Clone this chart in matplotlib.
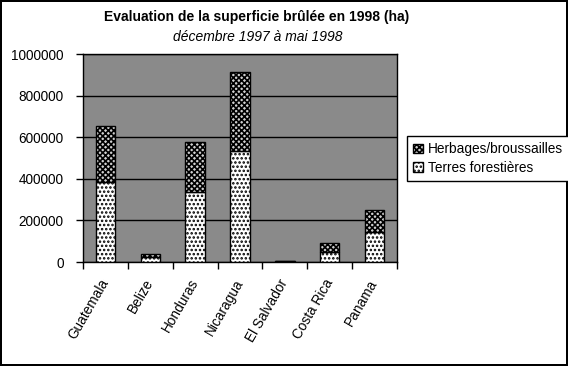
import matplotlib
matplotlib.use("Agg")
import matplotlib.pyplot as plt
import numpy as np

countries = ["Guatemala", "Belize", "Honduras", "Nicaragua", "El Salvador", "Costa Rica", "Panama"]
forest = [383000, 22000, 335000, 534000, 3000, 50000, 146000]
herbage = [272000, 16000, 240000, 378000, 3000, 40000, 105000]
yticks = [0, 200000, 400000, 600000, 800000, 1000000]
series_names = ["Herbages/broussailles", "Terres forestières"]

plt.rcParams['font.family'] = ['Liberation Sans', 'DejaVu Sans']
plt.rcParams['hatch.linewidth'] = 1.2

W, H = 568, 366
fig = plt.figure(figsize=(W / 100, H / 100), dpi=100, linewidth=1.5, edgecolor='black')
ax = fig.add_axes([83 / W, 1 - 262 / H, 314 / W, 208 / H])
ax.set_facecolor('#8a8a8a')

x = np.arange(len(countries))
bw = 0.43
b1 = ax.bar(x, forest, bw, color='white', edgecolor='black', hatch='....', linewidth=1, zorder=3)
b2 = ax.bar(x, herbage, bw, bottom=forest, color='#d0d0d0', edgecolor='black', hatch='xxxxxx', linewidth=1, zorder=3)

ax.set_xlim(-0.5, len(countries) - 0.5)
ax.set_ylim(0, 1000000)
ax.set_yticks(yticks)
ax.set_yticklabels([str(v) for v in yticks], fontsize=9.8)
ax.yaxis.grid(True, color='black', linewidth=1, zorder=1)
ax.set_axisbelow(True)

ax.set_xticks(np.arange(-0.5, len(countries), 1.0))
ax.set_xticklabels([])
ax.set_xticks(x, minor=True)
ax.set_xticklabels(countries, minor=True, rotation=60, ha='right', va='center',
                   rotation_mode='anchor', fontsize=9.8)
ax.tick_params(axis='x', which='minor', length=0, pad=13)
ax.tick_params(axis='x', which='major', length=5, width=1, direction='out', color='black')
ax.tick_params(axis='y', length=5, width=1, direction='out', pad=9)
for s in ax.spines.values():
    s.set_linewidth(1)
    s.set_color('black')

fig.text(257 / W, 1 - 17 / H, "Evaluation de la superficie brûlée en 1998 (ha)",
         ha='center', va='center', fontsize=10, fontweight='bold')
fig.text(258 / W, 1 - 37 / H, "décembre 1997 à mai 1998",
         ha='center', va='center', fontsize=10, style='italic')

leg = fig.legend([b2, b1], series_names, loc='upper left',
                 bbox_to_anchor=(407 / W, 1 - 136 / H), fontsize=9.8,
                 frameon=True, fancybox=False, edgecolor='black', framealpha=1,
                 handlelength=0.7, handleheight=0.7, handletextpad=0.4,
                 borderpad=0.45, labelspacing=0.35, borderaxespad=0)
leg.get_frame().set_linewidth(1)

fig.savefig("out.png", dpi=100)
